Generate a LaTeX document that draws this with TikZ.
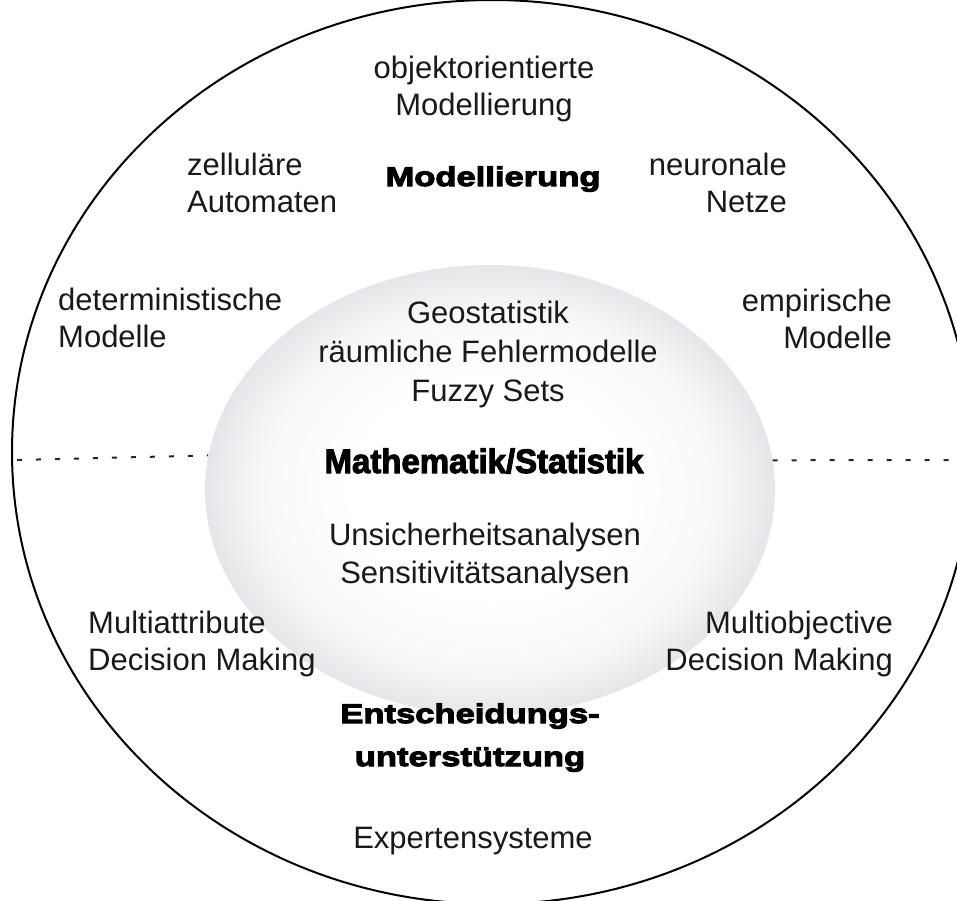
\documentclass[tikz,border=0pt]{standalone}
\usepackage{fontspec}
\setmainfont{Liberation Sans}
\newfontfamily\heavyfont[FakeBold=4,FakeStretch=1.28]{Liberation Sans Bold}
\newfontfamily\mathsfont[FakeBold=3,FakeStretch=0.97]{Liberation Sans Bold}
\usepackage{tikz}
\usetikzlibrary{shapes.geometric}
\definecolor{ballmid}{RGB}{248,248,249}
\definecolor{ballrim}{RGB}{229,230,233}
\pgfdeclareradialshading{ballshade}{\pgfpoint{0bp}{0bp}}{color(0bp)=(white); color(12bp)=(white); color(20bp)=(ballmid); color(25bp)=(ballrim); color(50bp)=(ballrim)}
\tikzset{
    rim/.style={line width=2pt, black},
    divider/.style={line width=2pt, black!85, dash pattern=on 5pt off 14pt},
    term/.style={font=\fontsize{31}{37}\selectfont, inner sep=0pt, text=black!90},
    topic/.style={font=\heavyfont\fontsize{27}{43}\selectfont, inner sep=0pt},
    ball/.style={ellipse, shading=ballshade, minimum width=570pt, minimum height=450pt, inner sep=0pt}
}

\begin{document}
\begin{tikzpicture}[x=1pt, y=-1pt]
    \useasboundingbox (0,0) rectangle (957,900);
    \clip (0,0) rectangle (957,900);
    % Outer circle
    \draw[rim] (492,452) ellipse [x radius=480pt, y radius=452pt];
    % Shaded core
    \node[ball] (core) at (490,490) {};
    % Dotted dividers
    \coordinate (rimW) at (17,460);
    \coordinate (rimE) at (957,460);
    \draw[divider] (rimW) -- (core.173.9);
    \draw[divider] (core.6.1) -- (rimE);
    % Upper half: modelling
    \node[term, anchor=base, align=center] (oop) at (484,115) {objektorientierte\\Modellierung};
    \node[topic, anchor=base] (model) at (493,186) {Modellierung};
    \node[term, anchor=base west, align=left] (cells) at (187,212) {zelluläre\\Automaten};
    \node[term, anchor=base east, align=right] (neural) at (787,212) {neuronale\\Netze};
    \node[term, anchor=base west, align=left] (determ) at (58,347) {deterministische\\Modelle};
    \node[term, anchor=base east, align=right] (empir) at (892,348) {empirische\\Modelle};
    % Core: mathematics and statistics
    \node[term, anchor=base, align=center, font=\fontsize{31}{39}\selectfont] (geo) at (488,401) {Geostatistik\\räumliche Fehlermodelle\\Fuzzy Sets};
    \node[anchor=base, inner sep=0pt, font=\mathsfont\fontsize{34}{37}\selectfont] (maths) at (484,473) {Mathematik/Statistik};
    \node[term, anchor=base, align=center, font=\fontsize{31}{38}\selectfont] (uncert) at (485,583) {Unsicherheitsanalysen\\Sensitivitätsanalysen};
    % Lower half: decision support
    \node[term, anchor=base west, align=left] (mattr) at (88,670) {Multiattribute\\Decision Making};
    \node[term, anchor=base east, align=right] (mobj) at (893,670) {Multiobjective\\Decision Making};
    \node[topic, anchor=base, align=center] (decide) at (470,766) {Entscheidungs-\\unterstützung};
    \node[term, anchor=base] (expert) at (473,848) {Expertensysteme};
\end{tikzpicture}
\end{document}
